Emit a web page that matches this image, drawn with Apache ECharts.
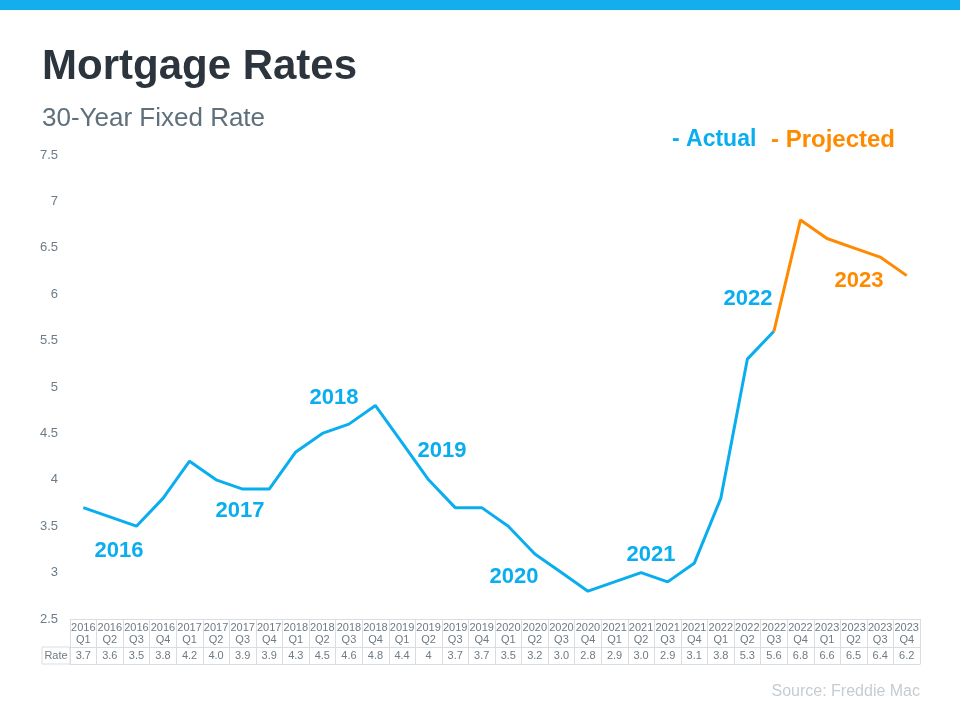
<!DOCTYPE html>
<html>
<head>
<meta charset="utf-8">
<title>Mortgage Rates</title>
<script src="https://cdn.jsdelivr.net/npm/echarts@6/dist/echarts.min.js"></script>
<style>
    html, body { margin: 0; padding: 0; background: #fff; }
    #main { width: 960px; height: 720px; }
</style>
</head>
<body>
<div id="main"></div>
<script>
// data ------------------
var quarters = [
    '2016\nQ1', '2016\nQ2', '2016\nQ3', '2016\nQ4',
    '2017\nQ1', '2017\nQ2', '2017\nQ3', '2017\nQ4',
    '2018\nQ1', '2018\nQ2', '2018\nQ3', '2018\nQ4',
    '2019\nQ1', '2019\nQ2', '2019\nQ3', '2019\nQ4',
    '2020\nQ1', '2020\nQ2', '2020\nQ3', '2020\nQ4',
    '2021\nQ1', '2021\nQ2', '2021\nQ3', '2021\nQ4',
    '2022\nQ1', '2022\nQ2', '2022\nQ3', '2022\nQ4',
    '2023\nQ1', '2023\nQ2', '2023\nQ3', '2023\nQ4'
];
// table cells as printed
var rateCells = [
    '3.7', '3.6', '3.5', '3.8',
    '4.2', '4.0', '3.9', '3.9',
    '4.3', '4.5', '4.6', '4.8',
    '4.4', '4', '3.7', '3.7',
    '3.5', '3.2', '3.0', '2.8',
    '2.9', '3.0', '2.9', '3.1',
    '3.8', '5.3', '5.6', '6.8',
    '6.6', '6.5', '6.4', '6.2'
];
var rates = rateCells.map(Number);
var lastActual = 26;   // 2022 Q3, projection starts here

var yearLabels = ['2016', '2017', '2018', '2019', '2020', '2021', '2022', '2023'];

var BLUE = '#0aaeef';
var ORANGE = '#ff8a00';
var GRID_LINE = '#d9dde1';
var TABLE_TEXT = '#6e7a84';
var FONT = '"Liberation Sans", Arial, sans-serif';

var actual = rates.map(function (v, i) { return i <= lastActual ? v : null; });
var projected = rates.map(function (v, i) { return i >= lastActual ? v : null; });

// label spots (pixels), one per year
var yearSpots = [
    [119, 551], [240, 511], [334, 398], [442, 451],
    [514, 577], [651, 555], [748, 299], [859, 281]
];

var myChart = echarts.init(document.getElementById('main'));

var graphics = [
    {type: 'rect', shape: {x: 0, y: 0, width: 960, height: 10}, style: {fill: '#14aeef'}},
    // "Rate" cell of the table
    {type: 'rect', shape: {x: 42, y: 647, width: 28, height: 17},
        style: {fill: 'none', stroke: GRID_LINE, lineWidth: 1}},
    {type: 'text', x: 56, y: 656,
        style: {text: 'Rate', fill: TABLE_TEXT, font: '11px ' + FONT, textAlign: 'center', textVerticalAlign: 'middle'}},
    // legend
    {type: 'text', x: 672, y: 140,
        style: {text: '- Actual', fill: BLUE, font: 'bold 23px ' + FONT, textVerticalAlign: 'middle'}},
    {type: 'text', x: 771, y: 140,
        style: {text: '- Projected', fill: ORANGE, font: 'bold 24px ' + FONT, textVerticalAlign: 'middle'}},
    // source
    {type: 'text', x: 920, y: 692,
        style: {text: 'Source: Freddie Mac', fill: '#c5ccd2', font: '16px ' + FONT, textAlign: 'right', textVerticalAlign: 'middle'}}
];

yearLabels.forEach(function (y, i) {
    graphics.push({
        type: 'text', x: yearSpots[i][0], y: yearSpots[i][1],
        style: {
            text: y,
            fill: y === '2023' ? ORANGE : BLUE,
            font: 'bold 22px ' + FONT,
            textAlign: 'center',
            textVerticalAlign: 'middle'
        }
    });
});

var option = {
    animation: false,
    backgroundColor: '#fff',
    textStyle: {fontFamily: FONT},
    title: [
        {text: 'Mortgage Rates', left: 42, top: 46, padding: 0,
            textStyle: {fontSize: 42, fontWeight: 'bold', color: '#2c353e', fontFamily: FONT}},
        {text: '30-Year Fixed Rate', left: 42, top: 106, padding: 0,
            textStyle: {fontSize: 26, fontWeight: 'normal', color: '#5f707b', fontFamily: FONT}}
    ],
    grid: {left: 70, right: 40, top: 155, bottom: 101, containLabel: false},
    xAxis: [
        {
            type: 'category',
            data: quarters,
            boundaryGap: true,
            position: 'bottom',
            axisLine: {show: true, lineStyle: {color: GRID_LINE, width: 1}},
            axisTick: {show: true, interval: 0, length: 45, lineStyle: {color: GRID_LINE, width: 1}},
            axisLabel: {interval: 0, margin: 3, fontSize: 11, lineHeight: 12, color: TABLE_TEXT, fontFamily: FONT},
            splitLine: {show: false}
        },
        {
            type: 'category',
            data: rateCells,
            boundaryGap: true,
            position: 'bottom',
            offset: 28,
            axisLine: {show: true, lineStyle: {color: GRID_LINE, width: 1}},
            axisTick: {show: false},
            axisLabel: {interval: 0, margin: 3, fontSize: 11, color: TABLE_TEXT, fontFamily: FONT},
            splitLine: {show: false}
        },
        {
            type: 'category',
            data: rateCells,
            boundaryGap: true,
            position: 'bottom',
            offset: 45,
            axisLine: {show: true, lineStyle: {color: GRID_LINE, width: 1}},
            axisTick: {show: false},
            axisLabel: {show: false},
            splitLine: {show: false}
        }
    ],
    yAxis: {
        type: 'value',
        min: 2.5,
        max: 7.5,
        interval: 0.5,
        axisLine: {show: false},
        axisTick: {show: false},
        splitLine: {show: false},
        axisLabel: {margin: 12, fontSize: 13, color: '#6d7b88', fontFamily: FONT}
    },
    series: [
        {
            name: 'Actual',
            type: 'line',
            xAxisIndex: 0,
            data: actual,
            symbol: 'none',
            lineStyle: {color: BLUE, width: 3},
            z: 3
        },
        {
            name: 'Projected',
            type: 'line',
            xAxisIndex: 0,
            data: projected,
            symbol: 'none',
            lineStyle: {color: ORANGE, width: 3},
            z: 4
        }
    ],
    graphic: graphics
};

myChart.setOption(option);
</script>
</body>
</html>
